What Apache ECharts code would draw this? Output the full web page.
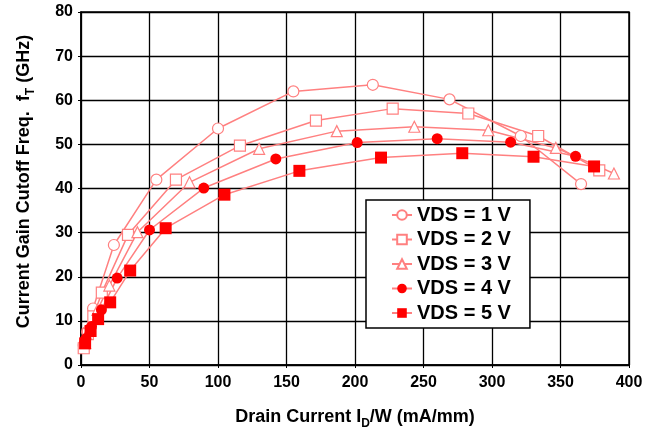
<!DOCTYPE html>
<html>
<head>
<meta charset="utf-8">
<script src="https://cdn.jsdelivr.net/npm/echarts@6/dist/echarts.min.js"></script>
<style>
html,body{margin:0;padding:0;background:#fff;}
#c{width:656px;height:429px;}
</style>
</head>
<body>
<div id="c"></div>
<script>
const seriesNames = ['VDS = 1 V', 'VDS = 2 V', 'VDS = 3 V', 'VDS = 4 V', 'VDS = 5 V'];
const x1 = [2, 4.5, 8.8, 24, 55, 100, 155, 213, 269, 321, 365];
const y1 = [4.5, 7.5, 12.8, 27.2, 42.0, 53.6, 62.0, 63.5, 60.2, 51.9, 41.0];
const x2 = [2, 5, 9, 15.2, 34.3, 69.3, 116, 171.5, 227.5, 282.7, 333.7, 378.3];
const y2 = [3.8, 7.0, 11.0, 16.4, 29.5, 42.0, 49.7, 55.4, 58.1, 57.0, 51.9, 44.1];
const x3 = [3, 6, 12, 20.7, 41.2, 79.2, 130, 186.7, 243.3, 297.3, 346.6, 389];
const y3 = [5.0, 8.0, 12.5, 18.0, 30.1, 41.4, 49.0, 53.0, 54.0, 53.2, 49.2, 43.4];
const x4 = [3.6, 7.6, 14.9, 26.4, 50, 89.6, 142.2, 201.6, 260, 313.6, 361];
const y4 = [6.0, 8.7, 12.5, 19.7, 30.6, 40.1, 46.7, 50.4, 51.3, 50.5, 47.3];
const x5 = [3, 7, 12.5, 21.3, 35.9, 61.8, 104.7, 159.4, 219, 278.3, 330.3, 374.5];
const y5 = [4.9, 7.7, 10.4, 14.2, 21.4, 31.0, 38.6, 44.0, 47.0, 48.0, 47.2, 45.0];
const xTicks = { min: 0, max: 400, interval: 50 };
const yTicks = { min: 0, max: 80, interval: 10 };

const pairs = (xs, ys) => xs.map((x, i) => [x, ys[i]]);
const lineC = '#ff8080';
const fillC = '#ff0000';
const FONT = 'Liberation Sans, Arial, sans-serif';

function mk(name, xs, ys, symbol, size, open) {
  return {
    name: name, type: 'line', data: pairs(xs, ys),
    symbol: symbol, symbolSize: size, showAllSymbol: true,
    lineStyle: { color: lineC, width: 1.5 },
    itemStyle: open ? { color: '#ffffff', borderColor: lineC, borderWidth: 1.2 }
                    : { color: fillC, borderColor: fillC, borderWidth: 0 },
    emphasis: { disabled: true },
    animation: false
  };
}

const richT = {
  a: { fontSize: 18, fontWeight: 'bold', fontFamily: FONT, color: '#000', verticalAlign: 'bottom', lineHeight: 20 },
  s: { fontSize: 12, fontWeight: 'bold', fontFamily: FONT, color: '#000', verticalAlign: 'bottom', lineHeight: 14, padding: [0, 0, -4, 0] }
};

const chart = echarts.init(document.getElementById('c'), null, { renderer: 'canvas' });
chart.setOption({
  backgroundColor: '#ffffff',
  animation: false,
  grid: { left: 81, right: 27, top: 12, bottom: 64, show: true, borderColor: '#000', borderWidth: 1.5,
          containLabel: false, outerBoundsMode: 'none' },
  xAxis: {
    type: 'value', min: xTicks.min, max: xTicks.max, interval: xTicks.interval,
    axisLine: { show: true, lineStyle: { color: '#000', width: 1.5 } },
    axisTick: { show: true, inside: false, length: 3, lineStyle: { color: '#000' } },
    splitLine: { show: true, lineStyle: { color: '#000', width: 1.3 } },
    axisLabel: { color: '#000', fontSize: 16, fontWeight: 'bold', fontFamily: FONT, margin: 10 },
    name: '{a|Drain Current I}{s|D}{a|/W (mA/mm)}',
    nameLocation: 'middle', nameGap: 41,
    nameTextStyle: { rich: richT }
  },
  yAxis: {
    type: 'value', min: yTicks.min, max: yTicks.max, interval: yTicks.interval,
    axisLine: { show: true, lineStyle: { color: '#000', width: 1.5 } },
    axisTick: { show: true, inside: false, length: 3, lineStyle: { color: '#000' } },
    splitLine: { show: true, lineStyle: { color: '#000', width: 1.3 } },
    axisLabel: { color: '#000', fontSize: 16, fontWeight: 'bold', fontFamily: FONT, margin: 8 },
    name: '{a|Current Gain Cutoff Freq.  f}{s|T}{a| (GHz)}',
    nameLocation: 'middle', nameRotate: 90, nameGap: 48,
    nameTextStyle: { rich: richT, padding: [0, 0, 0, 14] }
  },
  legend: {
    orient: 'vertical', left: 366, top: 200,
    backgroundColor: '#fff', borderColor: '#000', borderWidth: 1.5,
    padding: [5, 19, 5, 25], itemGap: 4.5, itemWidth: 20, itemHeight: 12,
    textStyle: { fontSize: 20, fontWeight: 'bold', fontFamily: FONT, color: '#000', lineHeight: 20 },
    data: seriesNames
  },
  series: [
    mk(seriesNames[0], x1, y1, 'circle', 11, true),
    mk(seriesNames[1], x2, y2, 'rect', 11, true),
    mk(seriesNames[2], x3, y3, 'triangle', 11, true),
    mk(seriesNames[3], x4, y4, 'circle', 11, false),
    mk(seriesNames[4], x5, y5, 'rect', 12, false)
  ]
});
</script>
</body>
</html>
